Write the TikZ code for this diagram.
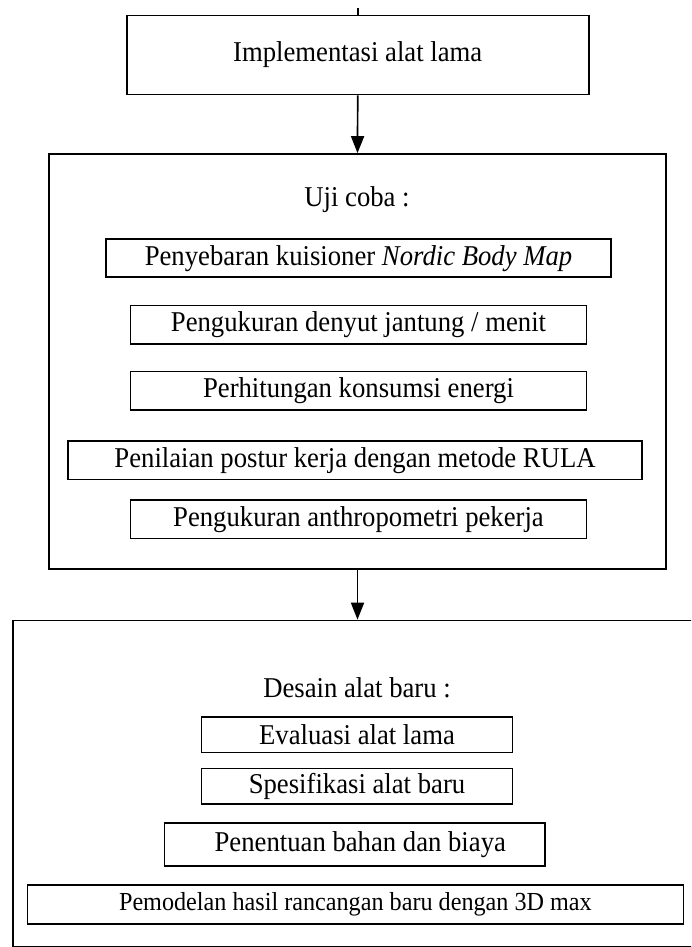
\documentclass[tikz,border=0pt]{standalone}
\usepackage{fontspec}
\usepackage{graphicx}
\setmainfont{Liberation Serif}
\usetikzlibrary{arrows.meta}
\newcommand{\sempit}[1]{\scalebox{0.93}[1]{#1}}
\begin{document}
\begin{tikzpicture}[x=1pt,y=-1pt,line width=1.7pt,
  >={Triangle[length=17pt,width=13pt]},
  kotak/.style={draw,rectangle,inner sep=0pt,font=\fontsize{28.7}{34}\selectfont},
  judul/.style={font=\fontsize{28.7}{34}\selectfont}]
\useasboundingbox (0,0) rectangle (691,947);
\clip (0,0) rectangle (691,947);
\fill[white] (0,0) rectangle (691,947);
\node[kotak,minimum width=462pt,minimum height=79pt] (impl) at (357.7,55) {\sempit{Implementasi alat lama}};
\node[kotak,minimum width=617pt,minimum height=415pt] (ujicoba) at (357.5,361.5) {};
\node[judul] (ujijudul) at (357,200) {\sempit{Uji coba :}};
\node[kotak,minimum width=505pt,minimum height=38pt] (nordic) at (358.5,258.3) {\sempit{Penyebaran kuisioner \textit{Nordic Body Map}}};
\node[kotak,minimum width=456pt,minimum height=38.5pt] (denyut) at (358.5,324.7) {\sempit{Pengukuran denyut jantung / menit}};
\node[kotak,minimum width=456pt,minimum height=38.5pt] (energi) at (358.5,390.8) {\sempit{Perhitungan konsumsi energi}};
\node[kotak,minimum width=574pt,minimum height=38.5pt] (rula) at (355,460.2) {\sempit{Penilaian postur kerja dengan metode RULA}};
\node[kotak,minimum width=456pt,minimum height=38.5pt] (antropo) at (358.5,519.2) {\sempit{Pengukuran anthropometri pekerja}};
\node[kotak,minimum width=688.4pt,minimum height=326pt] (desain) at (357.5,783.5) {};
\node[judul] (desainjudul) at (357,688) {\sempit{Desain alat baru :}};
\node[kotak,minimum width=311pt,minimum height=35.3pt] (evaluasi) at (357,734.7) {\sempit{Evaluasi alat lama}};
\node[kotak,minimum width=311pt,minimum height=35.3pt] (spesifikasi) at (357,786) {\sempit{Spesifikasi alat baru}};
\node[kotak,minimum width=380.6pt,minimum height=42.7pt] (bahan) at (354.7,844.3) {\sempit{\hspace{12pt}Penentuan bahan dan biaya}};
\node[kotak,minimum width=656pt,minimum height=38.4pt,font=\fontsize{26}{31}\selectfont] (pemodelan) at (355.4,904.5) {\sempit{Pemodelan hasil rancangan baru dengan 3D max}};
\coordinate (atas) at (357.7,8);
\draw (atas) -- (impl.north);
\draw[->] (impl.south) -- (ujicoba.north);
\draw[->] (ujicoba.south) -- (desain.north);
\end{tikzpicture}
\end{document}
